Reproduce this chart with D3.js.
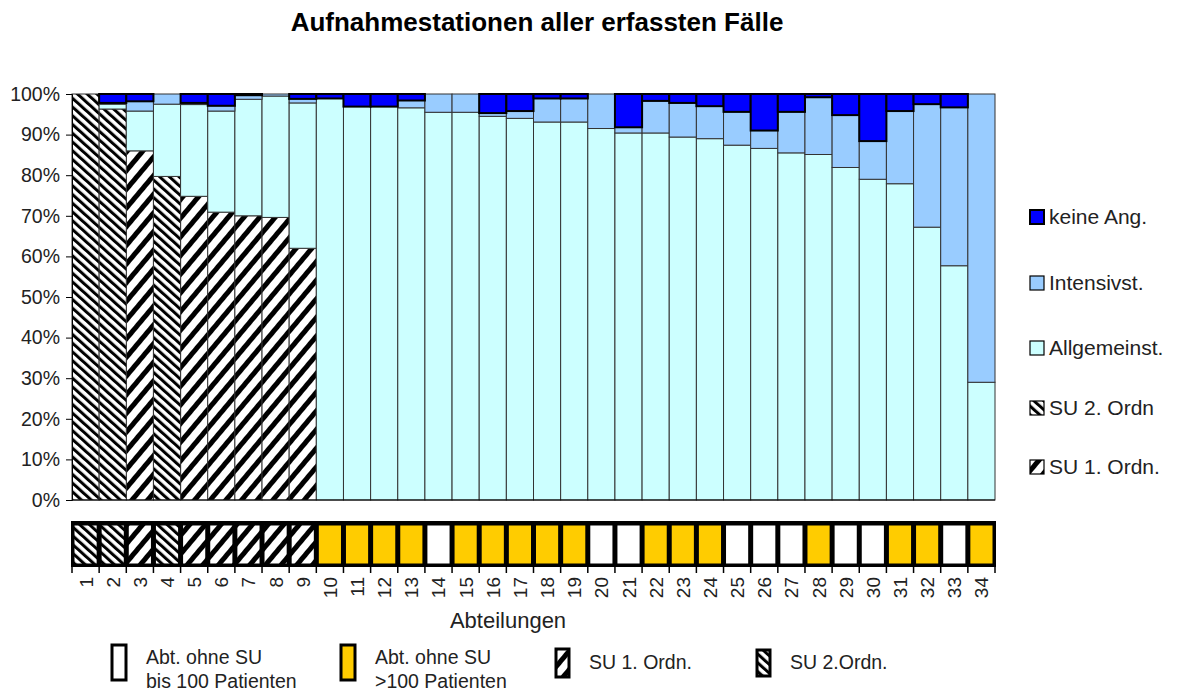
<!DOCTYPE html>
<html>
<head>
<meta charset="utf-8">
<script src="https://cdn.jsdelivr.net/npm/d3@7"></script>
<style>
  body { margin: 0; background: #fff; }
  svg text { font-family: "Liberation Sans", Arial, sans-serif; }
</style>
</head>
<body>
<div id="chart"></div>
<script>
// Abteilungen 1..34
const departments = d3.range(1, 35).map(String);

// Anteile in % (von unten nach oben gestapelt)
const su1 =       [0, 0, 86.0, 0, 74.8, 70.9, 70.0, 69.6, 62.0, 0, 0, 0, 0, 0, 0, 0, 0, 0, 0, 0, 0, 0, 0, 0, 0, 0, 0, 0, 0, 0, 0, 0, 0, 0];
const su2 =       [100, 96.3, 0, 79.7, 0, 0, 0, 0, 0, 0, 0, 0, 0, 0, 0, 0, 0, 0, 0, 0, 0, 0, 0, 0, 0, 0, 0, 0, 0, 0, 0, 0, 0, 0];
const allgemein = [0, 1.2, 9.8, 17.8, 22.6, 24.9, 28.7, 29.9, 35.8, 98.9, 96.9, 96.9, 96.6, 95.5, 95.5, 94.5, 94.0, 93.1, 93.1, 91.5, 90.4, 90.4, 89.4, 89.0, 87.4, 86.6, 85.5, 85.1, 81.9, 79.0, 77.9, 67.2, 57.7, 29.0];
const intensiv =  [0, 0.3, 2.4, 2.5, 0.4, 1.3, 1.0, 0.5, 1.0, 0, 0, 0, 1.8, 4.5, 4.5, 0.8, 1.8, 5.8, 5.8, 8.5, 1.4, 7.9, 8.4, 8.0, 8.2, 4.4, 10.1, 14.1, 12.9, 9.4, 17.9, 30.3, 39.0, 71.0];
const keineAng =  [0, 2.2, 1.8, 0, 2.2, 2.9, 0.3, 0, 1.2, 1.1, 3.1, 3.1, 1.6, 0, 0, 4.7, 4.2, 1.1, 1.1, 0, 8.2, 1.7, 2.2, 3.0, 4.4, 9.0, 4.4, 0.8, 5.2, 11.6, 4.2, 2.5, 3.3, 0];

// Typ der Abteilung für die Leiste unter dem Diagramm
const deptType = ["su2", "su2", "su1", "su2", "su1", "su1", "su1", "su1", "su1",
  "gross", "gross", "gross", "gross", "klein", "gross", "gross", "gross", "gross", "gross",
  "klein", "klein", "gross", "gross", "gross", "klein", "klein", "klein", "gross",
  "klein", "klein", "gross", "gross", "klein", "gross"];

const yTicks = [0, 10, 20, 30, 40, 50, 60, 70, 80, 90, 100];

const seriesKeys = ["su1", "su2", "allgemein", "intensiv", "keine"];
const seriesLabels = { su1: "SU 1. Ordn.", su2: "SU 2. Ordn", allgemein: "Allgemeinst.", intensiv: "Intensivst.", keine: "keine Ang." };
const fills = { su1: "url(#pat-su1)", su2: "url(#pat-su2)", allgemein: "#CCFFFF", intensiv: "#99CCFF", keine: "#0000FF",
  gross: "#FFCC00", klein: "#FFFFFF" };

const width = 1177, height = 691;
const plot = { left: 72, right: 995, top: 94, bottom: 500 };

const rows = departments.map((d, i) => ({
  dept: d, su1: su1[i], su2: su2[i], allgemein: allgemein[i], intensiv: intensiv[i], keine: keineAng[i]
}));

const svg = d3.select("#chart").append("svg")
  .attr("width", width)
  .attr("height", height);

// Schraffuren
const defs = svg.append("defs");
function hatch(id, size, bar, angle) {
  const p = defs.append("pattern")
    .attr("id", id)
    .attr("patternUnits", "userSpaceOnUse")
    .attr("width", size)
    .attr("height", size)
    .attr("patternTransform", `rotate(${angle})`);
  p.append("rect").attr("width", size).attr("height", size).attr("fill", "#fff");
  p.append("rect").attr("width", bar).attr("height", size).attr("fill", "#000");
}
hatch("pat-su1", 12, 5, 40);
hatch("pat-su2", 6.5, 3, -48);

const x = d3.scaleBand().domain(departments).range([plot.left, plot.right]).padding(0);
const y = d3.scaleLinear().domain([0, 100]).range([plot.bottom, plot.top]);

svg.append("text")
  .attr("x", 537)
  .attr("y", 31)
  .attr("text-anchor", "middle")
  .attr("font-size", 26)
  .attr("font-weight", "bold")
  .text("Aufnahmestationen aller erfassten Fälle");

const stacked = d3.stack().keys(seriesKeys)(rows);

svg.append("g").selectAll("g")
  .data(stacked)
  .join("g")
  .attr("fill", d => fills[d.key])
  .attr("stroke", d => d.key === "keine" ? "#000" : "#333")
  .attr("stroke-width", d => d.key === "keine" ? 2 : 1)
  .selectAll("rect")
  .data(d => d.filter(v => v[1] - v[0] > 0))
  .join("rect")
  .attr("x", d => x(d.data.dept))
  .attr("y", d => y(d[1]))
  .attr("width", x.bandwidth())
  .attr("height", d => y(d[0]) - y(d[1]));

// y-Achse
const yAxis = svg.append("g")
  .attr("transform", `translate(${plot.left},0)`)
  .call(d3.axisLeft(y).tickValues(yTicks).tickSize(6).tickPadding(6).tickFormat(d => d + "%"));
yAxis.select(".domain").attr("stroke", "#000");
yAxis.selectAll(".tick line").attr("stroke", "#000");
yAxis.selectAll("text").attr("font-size", 19.5).attr("fill", "#222").attr("font-family", "Liberation Sans, Arial, sans-serif");

svg.append("line")
  .attr("x1", plot.left).attr("x2", plot.right)
  .attr("y1", plot.bottom).attr("y2", plot.bottom)
  .attr("stroke", "#000");

// Leiste mit Abteilungstyp
const strip = { top: 521, bottom: 567 };
svg.append("rect")
  .attr("x", plot.left - 1)
  .attr("y", strip.top)
  .attr("width", plot.right - plot.left + 2)
  .attr("height", strip.bottom - strip.top)
  .attr("fill", "#000");

svg.append("g").selectAll("rect")
  .data(departments)
  .join("rect")
  .attr("x", d => x(d) + 2.5)
  .attr("y", strip.top + 4.5)
  .attr("width", x.bandwidth() - 5)
  .attr("height", strip.bottom - strip.top - 8)
  .attr("fill", (d, i) => fills[deptType[i]]);

const xAxis = svg.append("g")
  .attr("transform", `translate(0,${strip.bottom})`)
  .call(d3.axisBottom(x).tickSize(0).tickPadding(0));
xAxis.select(".domain").remove();
xAxis.selectAll("text")
  .attr("font-size", 19)
  .attr("fill", "#222")
  .attr("font-family", "Liberation Sans, Arial, sans-serif")
  .attr("text-anchor", "end")
  .attr("dy", null)
  .attr("y", 0)
  .attr("transform", "translate(7,10) rotate(-90)");

// Striche zwischen den Abteilungen
svg.append("g").selectAll("line")
  .data(departments.concat(["end"]))
  .join("line")
  .attr("x1", (d, i) => plot.left + i * x.bandwidth())
  .attr("x2", (d, i) => plot.left + i * x.bandwidth())
  .attr("y1", strip.bottom)
  .attr("y2", strip.bottom + 6)
  .attr("stroke", "#000")
  .attr("stroke-width", 1.5);

svg.append("text")
  .attr("x", 508)
  .attr("y", 628)
  .attr("text-anchor", "middle")
  .attr("font-size", 22)
  .attr("fill", "#222")
  .text("Abteilungen");

// Legende rechts
const legendKeys = ["keine", "intensiv", "allgemein", "su2", "su1"];
const legendY = [217, 283, 348, 408, 467];
const legend = svg.append("g").selectAll("g")
  .data(legendKeys)
  .join("g")
  .attr("transform", (d, i) => `translate(1030,${legendY[i]})`);
legend.append("rect")
  .attr("x", 0).attr("y", -7)
  .attr("width", 14).attr("height", 14)
  .attr("fill", d => fills[d])
  .attr("stroke", "#000")
  .attr("stroke-width", d => d === "keine" ? 2 : 1.2);
legend.append("text")
  .attr("x", 19)
  .attr("dy", "0.35em")
  .attr("font-size", 21)
  .attr("fill", "#222")
  .text(d => seriesLabels[d]);

// Legende unten
const bottomLegend = [
  { type: "klein", x: 112, y: 645, w: 14, h: 35, lines: ["Abt. ohne SU", "bis 100 Patienten"] },
  { type: "gross", x: 341, y: 645, w: 14, h: 35, lines: ["Abt. ohne SU", ">100 Patienten"] },
  { type: "su1", x: 556, y: 649, w: 13, h: 28, lines: ["SU 1. Ordn."] },
  { type: "su2", x: 757, y: 650, w: 13, h: 26, lines: ["SU 2.Ordn."] }
];
const bl = svg.append("g").selectAll("g")
  .data(bottomLegend)
  .join("g");
bl.append("rect")
  .attr("x", d => d.x).attr("y", d => d.y)
  .attr("width", d => d.w).attr("height", d => d.h)
  .attr("fill", d => fills[d.type])
  .attr("stroke", "#000")
  .attr("stroke-width", 3);
bl.each(function(d) {
  const t = d3.select(this).append("text")
    .attr("font-size", 19.5)
    .attr("fill", "#222");
  if (d.lines.length === 2) {
    t.selectAll("tspan").data(d.lines).join("tspan")
      .attr("x", d.x + 34)
      .attr("y", (l, i) => 664 + i * 24)
      .text(l => l);
  } else {
    t.attr("x", d.x + 33).attr("y", 669).text(d.lines[0]);
  }
});
</script>
</body>
</html>
